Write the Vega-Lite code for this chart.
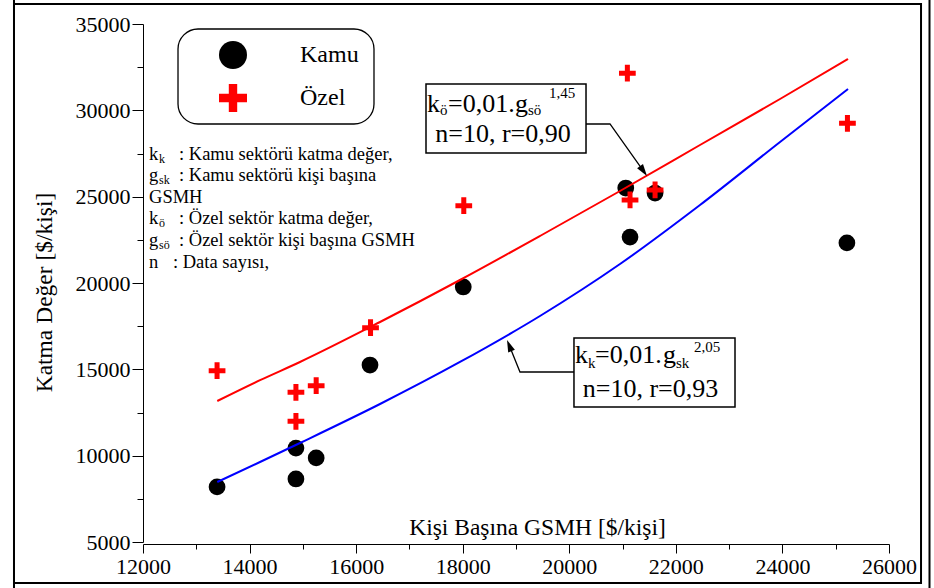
{
  "$schema": "https://vega.github.io/schema/vega-lite/v6.json",
  "width": 746,
  "height": 518,
  "autosize": "none",
  "padding": {"left": 143, "top": 24, "right": 45, "bottom": 46},
  "background": "white",
  "config": {
    "view": {"stroke": null},
    "font": "Liberation Serif, Times New Roman, serif",
    "axis": {
      "domainColor": "black", "tickColor": "black", "labelColor": "black", "titleColor": "black",
      "labelFont": "Liberation Serif, Times New Roman, serif", "titleFont": "Liberation Serif, Times New Roman, serif",
      "labelFontSize": 22, "titleFontSize": 23.5, "titleFontWeight": "normal",
      "grid": false, "domainWidth": 1, "tickWidth": 1, "labelFlush": false, "labelOverlap": false
    },
    "legend": {"labelFont": "Liberation Serif, Times New Roman, serif"},
    "text": {"font": "Liberation Serif, Times New Roman, serif"}
  },
  "datasets": {
    "pts": [
      {"sektor": "Kamu", "gsmh": 13390, "katma": 8190},
      {"sektor": "Kamu", "gsmh": 14870, "katma": 10440},
      {"sektor": "Kamu", "gsmh": 14870, "katma": 8650},
      {"sektor": "Kamu", "gsmh": 15250, "katma": 9870},
      {"sektor": "Kamu", "gsmh": 16260, "katma": 15250},
      {"sektor": "Kamu", "gsmh": 18010, "katma": 19770},
      {"sektor": "Kamu", "gsmh": 21060, "katma": 25500},
      {"sektor": "Kamu", "gsmh": 21140, "katma": 22660},
      {"sektor": "Kamu", "gsmh": 21610, "katma": 25210},
      {"sektor": "Kamu", "gsmh": 25210, "katma": 22320},
      {"sektor": "Özel", "gsmh": 13390, "katma": 14920},
      {"sektor": "Özel", "gsmh": 14870, "katma": 13670},
      {"sektor": "Özel", "gsmh": 14870, "katma": 11990},
      {"sektor": "Özel", "gsmh": 15250, "katma": 14050},
      {"sektor": "Özel", "gsmh": 16270, "katma": 17410},
      {"sektor": "Özel", "gsmh": 18020, "katma": 24480},
      {"sektor": "Özel", "gsmh": 21090, "katma": 32150},
      {"sektor": "Özel", "gsmh": 21140, "katma": 24810},
      {"sektor": "Özel", "gsmh": 21610, "katma": 25390},
      {"sektor": "Özel", "gsmh": 25220, "katma": 29250}
    ],
    "fitR": [
      {"gsmh": 13394, "katma": 13166}, {"gsmh": 14196, "katma": 14371}, {"gsmh": 14946, "katma": 15425},
      {"gsmh": 16448, "katma": 17741}, {"gsmh": 17949, "katma": 20174}, {"gsmh": 19450, "katma": 22722},
      {"gsmh": 20952, "katma": 25328}, {"gsmh": 22453, "katma": 27992}, {"gsmh": 23955, "katma": 30656},
      {"gsmh": 25231, "katma": 32973}
    ],
    "fitB": [
      {"gsmh": 13394, "katma": 8475}, {"gsmh": 14196, "katma": 9633}, {"gsmh": 14946, "katma": 10734},
      {"gsmh": 16448, "katma": 12992}, {"gsmh": 17949, "katma": 15425}, {"gsmh": 19450, "katma": 18089},
      {"gsmh": 20952, "katma": 21100}, {"gsmh": 22453, "katma": 24517}, {"gsmh": 23955, "katma": 28166},
      {"gsmh": 25231, "katma": 31236}
    ],
    "arrows": [
      {"arrow": 1, "o": 1, "gsmh": 20314, "katma": 29209},
      {"arrow": 1, "o": 2, "gsmh": 20764, "katma": 29209},
      {"arrow": 1, "o": 3, "gsmh": 21393, "katma": 26481},
      {"arrow": 2, "o": 1, "gsmh": 20088, "katma": 14846},
      {"arrow": 2, "o": 2, "gsmh": 19075, "katma": 14846},
      {"arrow": 2, "o": 3, "gsmh": 18874, "katma": 16374}
    ],
    "eqBoxes": [
      {"x1": 17311, "x2": 20314, "y1": 31525, "y2": 27529},
      {"x1": 20088, "x2": 23110, "y1": 16815, "y2": 12819}
    ],
    "blockMain": [
      {"gsmh": 12113, "katma": 27124, "t": "k"},
      {"gsmh": 12676, "katma": 27124, "t": ": Kamu sektörü katma değer,"},
      {"gsmh": 12113, "katma": 25907, "t": "g"},
      {"gsmh": 12676, "katma": 25907, "t": ": Kamu sektörü kişi başına"},
      {"gsmh": 12113, "katma": 24633, "t": "GSMH"},
      {"gsmh": 12113, "katma": 23417, "t": "k"},
      {"gsmh": 12676, "katma": 23417, "t": ": Özel sektör katma değer,"},
      {"gsmh": 12113, "katma": 22143, "t": "g"},
      {"gsmh": 12676, "katma": 22143, "t": ": Özel sektör kişi başına GSMH"},
      {"gsmh": 12113, "katma": 20869, "t": "n"},
      {"gsmh": 12563, "katma": 20869, "t": ": Data sayısı,"}
    ],
    "blockSub": [
      {"gsmh": 12300, "katma": 26950, "t": "k"},
      {"gsmh": 12300, "katma": 25734, "t": "sk"},
      {"gsmh": 12300, "katma": 23243, "t": "ö"},
      {"gsmh": 12300, "katma": 21969, "t": "sö"}
    ],
    "eqMain": [
      {"gsmh": 17330, "katma": 29921, "t": "k"},
      {"gsmh": 17724, "katma": 29921, "t": "=0,01."},
      {"gsmh": 18981, "katma": 29921, "t": "g"},
      {"gsmh": 20107, "katma": 15349, "t": "k"},
      {"gsmh": 20483, "katma": 15349, "t": "=0,01."},
      {"gsmh": 21759, "katma": 15349, "t": "g"}
    ],
    "eqLine2": [
      {"gsmh": 18756, "katma": 28183, "t": "n=10, r=0,90"},
      {"gsmh": 21524, "katma": 13415, "t": "n=10, r=0,93"}
    ],
    "eqSub": [
      {"gsmh": 17574, "katma": 29730, "t": "ö"},
      {"gsmh": 19225, "katma": 29730, "t": "sö"},
      {"gsmh": 20351, "katma": 15095, "t": "k"},
      {"gsmh": 22003, "katma": 15095, "t": "sk"}
    ],
    "eqSup": [
      {"gsmh": 19619, "katma": 30697, "t": "1,45"},
      {"gsmh": 22341, "katma": 16021, "t": "2,05"}
    ]
  },
  "layer": [
    {
      "data": {"values": [{}]},
      "mark": {"type": "rect", "fill": "transparent", "stroke": "black", "strokeWidth": 2},
      "encoding": {
        "x": {"datum": 9579, "type": "quantitative"}, "x2": {"datum": 26601},
        "y": {"datum": 36158, "type": "quantitative"}, "y2": {"datum": 2626}
      }
    },
    {
      "data": {"values": [{}]},
      "mark": {"type": "rule", "stroke": "black", "strokeWidth": 2},
      "encoding": {
        "x": {"datum": 9579, "type": "quantitative"},
        "y": {"datum": 36500, "type": "quantitative"}, "y2": {"datum": 2000}
      }
    },
    {
      "data": {"values": [{}]},
      "mark": {"type": "rule", "stroke": "black", "strokeWidth": 2},
      "encoding": {
        "x": {"datum": 26760, "type": "quantitative"},
        "y": {"datum": 36500, "type": "quantitative"}, "y2": {"datum": 2000}
      }
    },
    {
      "data": {"values": [{}]},
      "mark": {"type": "rect", "fill": "white", "stroke": "black", "strokeWidth": 1.3, "cornerRadius": 20},
      "encoding": {
        "x": {"datum": 12657, "type": "quantitative"}, "x2": {"datum": 16335},
        "y": {"datum": 34710, "type": "quantitative"}, "y2": {"datum": 29209}
      }
    },
    {
      "data": {"name": "pts"},
      "mark": {"type": "point", "filled": true, "size": 280, "opacity": 1, "strokeWidth": 0},
      "encoding": {
        "x": {
          "field": "gsmh", "type": "quantitative",
          "scale": {"domain": [12000, 26000], "nice": false, "zero": false},
          "axis": {
            "title": "Kişi Başına GSMH [$/kişi]",
            "values": [12000, 13000, 14000, 15000, 16000, 17000, 18000, 19000, 20000, 21000, 22000, 23000, 24000, 25000, 26000],
            "labelExpr": "datum.value % 2000 == 0 ? format(datum.value, 'd') : ''",
            "tickSize": {"condition": {"test": "datum.value % 2000 == 0", "value": 9}, "value": 5},
            "offset": 2, "labelPadding": 3,
            "titleX": 394, "titleY": -10, "titleBaseline": "alphabetic", "titleAlign": "center"
          }
        },
        "y": {
          "field": "katma", "type": "quantitative",
          "scale": {"domain": [5000, 35000], "nice": false, "zero": false},
          "axis": {
            "title": "Katma Değer [$/kişi]",
            "values": [5000, 7500, 10000, 12500, 15000, 17500, 20000, 22500, 25000, 27500, 30000, 32500, 35000],
            "labelExpr": "datum.value % 5000 == 0 ? format(datum.value, 'd') : ''",
            "tickSize": {"condition": {"test": "datum.value % 5000 == 0", "value": 11}, "value": 6},
            "labelPadding": 2,
            "titleX": -99, "titleY": 268, "titleAlign": "center", "titleBaseline": "middle", "titleAngle": 270
          }
        },
        "color": {
          "field": "sektor", "type": "nominal",
          "scale": {"domain": ["Kamu", "Özel"], "range": ["#000000", "#ff0000"]},
          "legend": {"title": null, "orient": "none", "legendX": 76, "legendY": 17, "symbolSize": 784, "labelFontSize": 24, "labelFont": "Liberation Serif, Times New Roman, serif", "labelColor": "black", "labelOffset": 53, "rowPadding": 15, "padding": 0, "symbolStrokeWidth": 0}
        },
        "shape": {
          "field": "sektor", "type": "nominal",
          "scale": {"domain": ["Kamu", "Özel"], "range": ["circle", "M-1,-0.3H-0.3V-1H0.3V-0.3H1V0.3H0.3V1H-0.3V0.3H-1Z"]},
          "legend": {"title": null, "orient": "none", "legendX": 76, "legendY": 17, "symbolSize": 784, "labelFontSize": 24, "labelFont": "Liberation Serif, Times New Roman, serif", "labelColor": "black", "labelOffset": 53, "rowPadding": 15, "padding": 0, "symbolStrokeWidth": 0}
        }
      }
    },
    {
      "data": {"name": "fitR"},
      "mark": {"type": "line", "color": "#ff0000", "strokeWidth": 2, "interpolate": "monotone"},
      "encoding": {
        "x": {"field": "gsmh", "type": "quantitative"},
        "y": {"field": "katma", "type": "quantitative"}
      }
    },
    {
      "data": {"name": "fitB"},
      "mark": {"type": "line", "color": "#0000ff", "strokeWidth": 2, "interpolate": "monotone"},
      "encoding": {
        "x": {"field": "gsmh", "type": "quantitative"},
        "y": {"field": "katma", "type": "quantitative"}
      }
    },
    {
      "data": {"name": "arrows"},
      "mark": {"type": "line", "color": "black", "strokeWidth": 1.3},
      "encoding": {
        "x": {"field": "gsmh", "type": "quantitative"},
        "y": {"field": "katma", "type": "quantitative"},
        "detail": {"field": "arrow", "type": "nominal"},
        "order": {"field": "o", "type": "quantitative"}
      }
    },
    {
      "data": {"values": [{}]},
      "mark": {"type": "point", "shape": "M0,-1L0.6,1L-0.6,1Z", "size": 144, "filled": true, "color": "black", "angle": 144.6, "opacity": 1},
      "encoding": {
        "x": {"datum": 21393, "type": "quantitative"},
        "y": {"datum": 26481, "type": "quantitative"}
      }
    },
    {
      "data": {"values": [{}]},
      "mark": {"type": "point", "shape": "M0,-1L0.6,1L-0.6,1Z", "size": 144, "filled": true, "color": "black", "angle": -22.1, "opacity": 1},
      "encoding": {
        "x": {"datum": 18874, "type": "quantitative"},
        "y": {"datum": 16374, "type": "quantitative"}
      }
    },
    {
      "data": {"name": "eqBoxes"},
      "mark": {"type": "rect", "fill": "white", "stroke": "black", "strokeWidth": 1.5},
      "encoding": {
        "x": {"field": "x1", "type": "quantitative"}, "x2": {"field": "x2"},
        "y": {"field": "y1", "type": "quantitative"}, "y2": {"field": "y2"}
      }
    },
    {
      "data": {"name": "blockMain"},
      "mark": {"type": "text", "align": "left", "baseline": "alphabetic", "fontSize": 18.5, "font": "Liberation Serif, Times New Roman, serif", "color": "black"},
      "encoding": {
        "x": {"field": "gsmh", "type": "quantitative"},
        "y": {"field": "katma", "type": "quantitative"},
        "text": {"field": "t"}
      }
    },
    {
      "data": {"name": "blockSub"},
      "mark": {"type": "text", "align": "left", "baseline": "alphabetic", "fontSize": 12, "font": "Liberation Serif, Times New Roman, serif", "color": "black"},
      "encoding": {
        "x": {"field": "gsmh", "type": "quantitative"},
        "y": {"field": "katma", "type": "quantitative"},
        "text": {"field": "t"}
      }
    },
    {
      "data": {"name": "eqMain"},
      "mark": {"type": "text", "align": "left", "baseline": "alphabetic", "fontSize": 26, "font": "Liberation Serif, Times New Roman, serif", "color": "black"},
      "encoding": {
        "x": {"field": "gsmh", "type": "quantitative"},
        "y": {"field": "katma", "type": "quantitative"},
        "text": {"field": "t"}
      }
    },
    {
      "data": {"name": "eqLine2"},
      "mark": {"type": "text", "align": "center", "baseline": "alphabetic", "fontSize": 26, "font": "Liberation Serif, Times New Roman, serif", "color": "black"},
      "encoding": {
        "x": {"field": "gsmh", "type": "quantitative"},
        "y": {"field": "katma", "type": "quantitative"},
        "text": {"field": "t"}
      }
    },
    {
      "data": {"name": "eqSub"},
      "mark": {"type": "text", "align": "left", "baseline": "alphabetic", "fontSize": 15, "font": "Liberation Serif, Times New Roman, serif", "color": "black"},
      "encoding": {
        "x": {"field": "gsmh", "type": "quantitative"},
        "y": {"field": "katma", "type": "quantitative"},
        "text": {"field": "t"}
      }
    },
    {
      "data": {"name": "eqSup"},
      "mark": {"type": "text", "align": "left", "baseline": "alphabetic", "fontSize": 15, "font": "Liberation Serif, Times New Roman, serif", "color": "black"},
      "encoding": {
        "x": {"field": "gsmh", "type": "quantitative"},
        "y": {"field": "katma", "type": "quantitative"},
        "text": {"field": "t"}
      }
    }
  ]
}
